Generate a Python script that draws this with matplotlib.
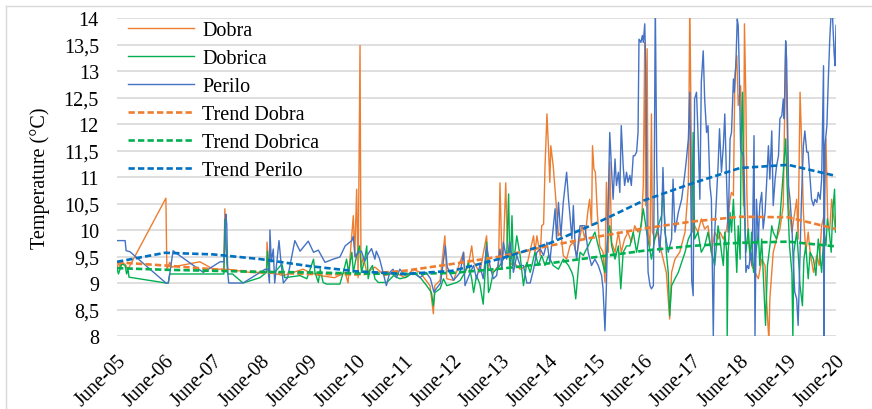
import matplotlib
matplotlib.use("Agg")
import matplotlib.pyplot as plt
from matplotlib.ticker import FuncFormatter
from matplotlib.lines import Line2D

plt.rcParams['font.family'] = ['Liberation Serif', 'DejaVu Serif']
plt.rcParams['font.size'] = 14.5

# Water temperature records (decimal year, degrees C)
dobra_year = [
    2005.42, 2005.45, 2005.48, 2005.52, 2005.59, 2005.65, 2006.44, 2006.46, 2006.52, 2006.56,
    2007.15, 2007.29, 2007.43, 2007.65, 2007.67, 2007.69, 2007.73, 2008.19, 2008.54, 2008.55,
    2008.58, 2008.61, 2008.89, 2009.30, 2009.44, 2009.65, 2009.96, 2010.18, 2010.24, 2010.35,
    2010.38, 2010.42, 2010.45, 2010.49, 2010.51, 2010.56, 2010.63, 2010.80, 2011.01, 2011.22,
    2011.43, 2011.60, 2011.74, 2011.95, 2012.02, 2012.05, 2012.16, 2012.26, 2012.30, 2012.44,
    2012.65, 2012.68, 2012.75, 2012.82, 2012.86, 2012.99, 2013.13, 2013.17, 2013.27, 2013.38,
    2013.41, 2013.45, 2013.48, 2013.53, 2013.56, 2013.62, 2013.69, 2013.83, 2013.97, 2014.11,
    2014.14, 2014.18, 2014.25, 2014.28, 2014.32, 2014.35, 2014.39, 2014.42, 2014.45, 2014.47,
    2014.52, 2014.59, 2014.63, 2014.68, 2014.73, 2014.80, 2014.87, 2014.94, 2015.01, 2015.12,
    2015.18, 2015.25, 2015.28, 2015.32, 2015.34, 2015.37, 2015.40, 2015.44, 2015.49, 2015.56,
    2015.60, 2015.63, 2015.67, 2015.70, 2015.74, 2015.81, 2015.88, 2015.94, 2016.01, 2016.08,
    2016.15, 2016.22, 2016.29, 2016.36, 2016.40, 2016.43, 2016.45, 2016.48, 2016.50, 2016.54,
    2016.57, 2016.59, 2016.64, 2016.71, 2016.78, 2016.88, 2016.95, 2016.99, 2017.06, 2017.16,
    2017.27, 2017.34, 2017.37, 2017.39, 2017.42, 2017.47, 2017.54, 2017.61, 2017.68, 2017.75,
    2017.82, 2017.89, 2017.96, 2018.00, 2018.07, 2018.14, 2018.21, 2018.24, 2018.28, 2018.31,
    2018.35, 2018.38, 2018.43, 2018.49, 2018.51, 2018.54, 2018.56, 2018.59, 2018.66, 2018.73,
    2018.80, 2018.87, 2018.94, 2018.97, 2019.02, 2019.04, 2019.11, 2019.18, 2019.25, 2019.32,
    2019.37, 2019.39, 2019.43, 2019.50, 2019.60, 2019.63, 2019.67, 2019.70, 2019.74, 2019.79,
    2019.84, 2019.88, 2019.95, 2020.02, 2020.07, 2020.12, 2020.17, 2020.21, 2020.25, 2020.29,
    2020.33, 2020.36, 2020.40,
]
dobra_temp = [
    9.26, 9.40, 9.30, 9.40, 9.35, 9.26, 10.60, 9.26, 9.39, 9.30,
    9.40, 9.33, 9.26, 9.26, 10.40, 9.70, 9.26, 9.20, 9.20, 9.77,
    9.40, 9.20, 9.14, 9.26, 9.20, 9.14, 9.10, 9.20, 9.00, 10.27,
    9.50, 10.77, 9.10, 13.48, 9.30, 9.50, 9.20, 9.30, 9.14, 9.20,
    9.10, 9.26, 9.20, 8.95, 8.42, 8.95, 9.05, 9.89, 9.08, 9.05,
    9.58, 9.20, 9.33, 9.70, 9.39, 9.20, 9.89, 9.26, 9.20, 9.33,
    10.89, 9.45, 9.58, 10.89, 9.83, 9.33, 9.39, 9.26, 9.33, 9.89,
    9.58, 9.89, 9.52, 10.08, 10.11, 11.21, 12.19, 11.59, 10.90, 11.59,
    11.21, 10.40, 9.89, 9.96, 9.52, 9.45, 9.70, 9.77, 9.52, 10.08,
    9.83, 10.40, 10.58, 10.08, 11.59, 11.15, 11.09, 10.33, 9.70, 9.58,
    9.01, 10.90, 9.58, 11.28, 9.77, 9.58, 9.96, 9.58, 9.83, 9.96,
    9.77, 10.08, 9.96, 10.08, 10.84, 13.54, 10.46, 13.42, 9.96, 9.70,
    12.19, 9.96, 9.83, 9.96, 9.58, 9.20, 8.32, 9.20, 9.45, 9.58,
    9.96, 10.84, 14.30, 12.60, 9.96, 10.08, 9.96, 10.21, 10.02, 10.08,
    9.58, 9.96, 9.83, 9.96, 9.83, 10.02, 10.58, 10.71, 10.65, 12.91,
    13.29, 12.35, 12.72, 10.46, 13.89, 12.47, 10.71, 9.83, 9.33, 9.20,
    9.08, 9.45, 9.33, 8.70, 7.90, 8.70, 9.58, 9.83, 10.02, 10.46,
    13.51, 12.47, 10.46, 9.96, 10.58, 9.83, 12.60, 11.72, 10.33, 9.58,
    9.96, 9.58, 9.20, 9.52, 9.33, 10.08, 10.27, 11.72, 10.08, 10.02,
    10.58, 10.33, 10.08,
]

dobrica_year = [
    2005.42, 2005.45, 2005.52, 2005.59, 2005.62, 2005.65, 2005.67, 2006.44, 2006.49, 2006.52,
    2007.15, 2007.57, 2007.65, 2007.67, 2007.70, 2007.73, 2007.83, 2008.05, 2008.40, 2008.54,
    2008.56, 2008.59, 2008.71, 2008.86, 2008.92, 2009.24, 2009.38, 2009.45, 2009.52, 2009.55,
    2009.62, 2009.66, 2009.72, 2009.79, 2009.93, 2010.07, 2010.14, 2010.21, 2010.25, 2010.32,
    2010.35, 2010.42, 2010.48, 2010.52, 2010.59, 2010.63, 2010.66, 2010.70, 2010.75, 2010.80,
    2010.87, 2011.05, 2011.19, 2011.32, 2011.46, 2011.60, 2011.74, 2011.88, 2011.98, 2012.02,
    2012.05, 2012.16, 2012.23, 2012.30, 2012.51, 2012.58, 2012.68, 2012.75, 2012.82, 2012.86,
    2012.92, 2012.99, 2013.06, 2013.10, 2013.13, 2013.17, 2013.20, 2013.27, 2013.34, 2013.41,
    2013.48, 2013.55, 2013.59, 2013.62, 2013.66, 2013.69, 2013.76, 2013.83, 2013.90, 2013.97,
    2014.04, 2014.14, 2014.21, 2014.28, 2014.35, 2014.42, 2014.52, 2014.63, 2014.73, 2014.84,
    2014.91, 2014.94, 2014.99, 2015.05, 2015.08, 2015.15, 2015.18, 2015.25, 2015.32, 2015.39,
    2015.46, 2015.53, 2015.60, 2015.67, 2015.70, 2015.74, 2015.81, 2015.88, 2015.93, 2015.98,
    2016.05, 2016.12, 2016.19, 2016.26, 2016.33, 2016.40, 2016.47, 2016.57, 2016.64, 2016.71,
    2016.78, 2016.81, 2016.88, 2016.92, 2016.95, 2016.99, 2017.06, 2017.13, 2017.20, 2017.27,
    2017.34, 2017.41, 2017.44, 2017.47, 2017.54, 2017.61, 2017.68, 2017.75, 2017.82, 2017.89,
    2017.96, 2018.00, 2018.03, 2018.07, 2018.10, 2018.14, 2018.15, 2018.17, 2018.21, 2018.24,
    2018.28, 2018.31, 2018.35, 2018.38, 2018.42, 2018.44, 2018.47, 2018.50, 2018.54, 2018.59,
    2018.63, 2018.66, 2018.70, 2018.75, 2018.80, 2018.83, 2018.87, 2018.92, 2018.95, 2018.99,
    2019.04, 2019.08, 2019.11, 2019.18, 2019.25, 2019.32, 2019.37, 2019.40, 2019.45, 2019.50,
    2019.52, 2019.54, 2019.60, 2019.63, 2019.67, 2019.72, 2019.75, 2019.79, 2019.84, 2019.88,
    2019.95, 2020.00, 2020.05, 2020.12, 2020.17, 2020.21, 2020.24, 2020.28, 2020.32, 2020.35,
    2020.39, 2020.41,
]
dobrica_temp = [
    9.28, 9.17, 9.36, 9.33, 9.17, 9.26, 9.11, 9.00, 9.00, 9.17,
    9.17, 9.17, 9.17, 10.20, 9.60, 9.17, 9.17, 9.00, 9.10, 9.20,
    9.60, 9.20, 9.20, 9.36, 9.10, 9.14, 9.08, 9.26, 9.45, 9.20,
    9.01, 9.26, 9.01, 8.98, 8.98, 8.98, 9.20, 9.45, 9.20, 9.58,
    9.20, 9.52, 9.70, 9.20, 9.45, 9.70, 9.08, 9.26, 9.33, 9.08,
    9.01, 9.01, 9.14, 9.08, 9.11, 9.20, 9.11, 8.95, 8.82, 8.57,
    8.82, 8.89, 9.08, 8.95, 9.01, 9.05, 9.20, 9.39, 9.08, 8.82,
    9.14, 8.98, 8.60, 9.20, 9.77, 8.82, 8.89, 9.20, 9.26, 9.33,
    9.45, 9.52, 10.68, 9.08, 10.27, 9.33, 9.89, 9.52, 8.95, 9.39,
    9.20, 9.58, 9.33, 9.52, 9.33, 9.52, 9.33, 9.26, 9.45, 9.33,
    9.20, 9.11, 8.70, 9.33, 9.58, 9.52, 9.58, 9.70, 9.83, 9.96,
    9.70, 9.45, 9.20, 9.96, 10.08, 9.70, 9.45, 9.70, 8.89, 9.58,
    9.70, 9.70, 9.96, 9.58, 9.96, 10.40, 9.96, 9.45, 9.83, 10.08,
    10.27, 10.84, 9.58, 9.20, 8.38, 8.95, 9.08, 9.20, 9.39, 9.58,
    9.83, 9.96, 11.84, 9.83, 9.96, 9.58, 9.70, 9.96, 9.58, 9.33,
    10.08, 9.83, 9.58, 9.33, 9.96, 9.58, 7.99, 9.58, 10.33, 9.96,
    10.58, 9.96, 9.20, 10.08, 9.45, 11.59, 12.60, 10.58, 9.58, 10.02,
    9.45, 9.96, 9.20, 9.58, 9.96, 9.33, 9.83, 8.82, 8.20, 9.33,
    9.70, 10.08, 9.96, 9.83, 10.21, 11.09, 11.72, 10.84, 9.70, 9.20,
    7.94, 9.58, 9.96, 9.58, 8.95, 8.57, 9.45, 9.70, 9.08, 9.58,
    9.45, 9.14, 9.83, 9.20, 9.96, 9.70, 10.21, 9.96, 9.58, 10.33,
    10.77, 9.96,
]

perilo_year = [
    2005.42, 2005.59, 2005.61, 2005.69, 2006.44, 2006.49, 2006.52, 2006.59, 2006.63, 2007.22,
    2007.57, 2007.65, 2007.69, 2007.71, 2007.73, 2007.75, 2008.05, 2008.51, 2008.57, 2008.60,
    2008.61, 2008.64, 2008.68, 2008.71, 2008.80, 2008.84, 2008.89, 2008.98, 2009.13, 2009.24,
    2009.41, 2009.52, 2009.62, 2009.76, 2009.93, 2010.07, 2010.18, 2010.32, 2010.35, 2010.39,
    2010.45, 2010.52, 2010.59, 2010.66, 2010.73, 2010.80, 2010.83, 2010.90, 2010.97, 2011.04,
    2011.11, 2011.18, 2011.25, 2011.32, 2011.42, 2011.60, 2011.74, 2011.87, 2011.96, 2012.03,
    2012.17, 2012.27, 2012.31, 2012.44, 2012.58, 2012.65, 2012.68, 2012.79, 2012.86, 2012.92,
    2012.99, 2013.06, 2013.13, 2013.20, 2013.27, 2013.34, 2013.41, 2013.45, 2013.48, 2013.55,
    2013.62, 2013.69, 2013.76, 2013.83, 2013.90, 2013.97, 2014.04, 2014.11, 2014.18, 2014.25,
    2014.32, 2014.39, 2014.45, 2014.56, 2014.59, 2014.63, 2014.68, 2014.73, 2014.77, 2014.80,
    2014.84, 2014.87, 2014.91, 2014.94, 2014.98, 2015.01, 2015.08, 2015.18, 2015.25, 2015.32,
    2015.39, 2015.46, 2015.53, 2015.56, 2015.60, 2015.63, 2015.67, 2015.70, 2015.74, 2015.77,
    2015.81, 2015.84, 2015.88, 2015.91, 2015.94, 2015.98, 2016.01, 2016.05, 2016.08, 2016.12,
    2016.15, 2016.19, 2016.22, 2016.26, 2016.29, 2016.31, 2016.35, 2016.38, 2016.40, 2016.43,
    2016.45, 2016.48, 2016.50, 2016.54, 2016.57, 2016.61, 2016.63, 2016.65, 2016.68, 2016.71,
    2016.74, 2016.78, 2016.81, 2016.85, 2016.92, 2016.99, 2017.02, 2017.06, 2017.13, 2017.20,
    2017.27, 2017.30, 2017.34, 2017.37, 2017.41, 2017.44, 2017.47, 2017.51, 2017.54, 2017.58,
    2017.61, 2017.65, 2017.68, 2017.72, 2017.75, 2017.79, 2017.82, 2017.86, 2017.89, 2017.96,
    2017.99, 2018.03, 2018.07, 2018.10, 2018.14, 2018.17, 2018.21, 2018.24, 2018.28, 2018.30,
    2018.33, 2018.36, 2018.38, 2018.40, 2018.43, 2018.45, 2018.49, 2018.51, 2018.54, 2018.57,
    2018.60, 2018.64, 2018.67, 2018.71, 2018.73, 2018.76, 2018.80, 2018.83, 2018.87, 2018.90,
    2018.94, 2018.97, 2019.01, 2019.04, 2019.08, 2019.11, 2019.15, 2019.18, 2019.22, 2019.25,
    2019.29, 2019.32, 2019.34, 2019.37, 2019.39, 2019.43, 2019.46, 2019.50, 2019.53, 2019.56,
    2019.60, 2019.63, 2019.67, 2019.70, 2019.74, 2019.77, 2019.81, 2019.84, 2019.88, 2019.91,
    2019.95, 2019.98, 2020.02, 2020.05, 2020.09, 2020.12, 2020.16, 2020.17, 2020.19, 2020.23,
    2020.26, 2020.29, 2020.33, 2020.35, 2020.38, 2020.40, 2020.42,
]
perilo_temp = [
    9.80, 9.80, 9.61, 9.59, 9.00, 9.00, 9.17, 9.61, 9.58, 9.20,
    9.40, 9.40, 10.30, 10.10, 9.20, 9.00, 9.00, 9.26, 9.26, 9.00,
    10.00, 9.40, 9.64, 9.00, 9.80, 9.40, 9.00, 9.10, 9.80, 9.60,
    9.79, 9.58, 9.62, 9.39, 9.45, 9.49, 9.70, 9.80, 9.88, 9.49,
    9.58, 9.60, 9.41, 9.55, 9.65, 9.45, 9.60, 9.45, 9.20, 8.95,
    9.20, 9.26, 9.10, 9.26, 9.15, 9.20, 9.10, 9.20, 9.08, 8.83,
    9.00, 9.70, 9.30, 9.05, 9.20, 9.58, 8.95, 9.20, 9.33, 9.08,
    9.33, 9.08, 9.70, 9.33, 9.08, 9.14, 9.64, 9.26, 9.77, 9.45,
    9.77, 9.20, 9.52, 9.33, 9.33, 9.00, 9.00, 9.26, 9.58, 9.64,
    9.52, 9.77, 9.39, 10.40, 9.83, 10.52, 9.89, 10.52, 10.84, 11.09,
    10.58, 10.27, 9.83, 10.46, 9.64, 9.45, 10.08, 10.08, 9.58, 9.33,
    9.45, 9.33, 9.14, 8.89, 8.10, 8.95, 10.58, 11.84, 11.09, 10.58,
    11.34, 10.84, 11.09, 10.71, 11.97, 11.21, 10.84, 11.09, 10.90, 11.03,
    10.84, 11.40, 11.40, 11.47, 11.84, 13.60, 13.54, 13.67, 13.54, 13.89,
    13.10, 9.96, 9.20, 8.95, 8.89, 8.95, 11.21, 14.30, 11.21, 9.96,
    9.58, 10.08, 11.18, 9.96, 9.58, 9.83, 10.96, 9.96, 10.33, 10.58,
    11.09, 11.34, 11.72, 12.60, 9.05, 8.76, 12.47, 12.60, 11.84, 10.58,
    12.79, 13.38, 12.47, 11.84, 11.97, 10.84, 10.58, 8.00, 9.96, 11.21,
    11.91, 11.09, 11.59, 12.19, 10.84, 9.96, 11.72, 11.84, 12.85, 12.60,
    13.10, 13.98, 13.86, 13.10, 11.53, 11.47, 11.40, 10.84, 9.20, 9.33,
    9.27, 9.58, 9.33, 11.78, 8.00, 10.58, 9.83, 10.46, 10.71, 10.02,
    10.33, 10.84, 11.59, 10.96, 11.87, 10.46, 10.96, 11.21, 11.40, 12.10,
    12.16, 12.47, 12.10, 13.57, 13.22, 10.84, 10.58, 10.08, 9.33, 8.83,
    8.70, 8.20, 9.58, 10.58, 11.59, 11.87, 11.47, 11.47, 10.96, 10.58,
    10.46, 10.58, 10.52, 10.71, 10.58, 10.96, 13.10, 8.00, 11.59, 11.97,
    12.85, 13.60, 14.30, 13.98, 13.35, 13.10, 13.86,
]

# Polynomial trend curves, sampled once a year (each June)
trend_year = [2005.42, 2006.42, 2007.42, 2008.42, 2009.42, 2010.42, 2011.42, 2012.42,
              2013.42, 2014.42, 2015.42, 2016.42, 2017.42, 2018.42, 2019.42, 2020.42]
trend_dobra = [9.39, 9.33, 9.26, 9.20, 9.17, 9.16, 9.23, 9.36,
               9.50, 9.70, 9.87, 10.03, 10.16, 10.25, 10.24, 10.02]
trend_dobrica = [9.28, 9.25, 9.23, 9.21, 9.20, 9.18, 9.17, 9.19,
                 9.27, 9.37, 9.49, 9.61, 9.70, 9.76, 9.78, 9.69]
trend_perilo = [9.40, 9.57, 9.54, 9.45, 9.32, 9.22, 9.17, 9.23,
                9.46, 9.74, 10.13, 10.56, 10.88, 11.17, 11.23, 11.02]

tick_years = [2005.42, 2006.42, 2007.42, 2008.42, 2009.42, 2010.42, 2011.42, 2012.42,
              2013.42, 2014.42, 2015.42, 2016.42, 2017.42, 2018.42, 2019.42, 2020.42]
tick_labels = ["June-05", "June-06", "June-07", "June-08", "June-09", "June-10",
               "June-11", "June-12", "June-13", "June-14", "June-15", "June-16",
               "June-17", "June-18", "June-19", "June-20"]

W, H = 872, 410
fig = plt.figure(figsize=(W / 100, H / 100), dpi=100)
ax = fig.add_axes([117 / W, 1 - 337 / H, (836 - 117) / W, (337 - 19) / H])

c_dobra, c_dobrica, c_perilo = "#ED7D31", "#00B050", "#4472C4"
ln1, = ax.plot(dobra_year, dobra_temp, color=c_dobra, lw=1.0, label="Dobra")
ln2, = ax.plot(dobrica_year, dobrica_temp, color=c_dobrica, lw=1.0, label="Dobrica")
ln3, = ax.plot(perilo_year, perilo_temp, color=c_perilo, lw=1.0, label="Perilo")
dash = (2.4, 1.2)
tr1, = ax.plot(trend_year, trend_dobra, color=c_dobra, lw=1.9, dashes=dash, label="Trend Dobra")
tr2, = ax.plot(trend_year, trend_dobrica, color=c_dobrica, lw=1.9, dashes=dash, label="Trend Dobrica")
tr3, = ax.plot(trend_year, trend_perilo, color="#0070C0", lw=1.9, dashes=dash, label="Trend Perilo")

ax.set_xlim(2005.42, 2020.42)
ax.set_ylim(8, 14)
ax.set_yticks([8 + 0.5 * i for i in range(13)])
ax.yaxis.set_major_formatter(FuncFormatter(lambda v, p: ("%g" % v).replace(".", ",")))
ax.set_xticks(tick_years)
ax.set_xticklabels(tick_labels, rotation=45, ha="right", va="top", rotation_mode="anchor")
ax.tick_params(axis="both", length=0, labelsize=14.5)
ax.tick_params(axis="y", pad=13)
ax.tick_params(axis="x", pad=11)
ax.yaxis.grid(True, color="#d9d9d9", lw=1.2)
ax.set_axisbelow(True)
for s in ax.spines.values():
    s.set_visible(False)

ax.set_ylabel("Temperature (°C)", fontsize=14.5)
ax.yaxis.set_label_coords((50 - 117) / 719, 0.5)

ax.legend(handles=[ln1, ln2, ln3, tr1, tr2, tr3], loc="upper left",
          bbox_to_anchor=(0.015, 0.99), frameon=False, borderaxespad=0, borderpad=0,
          handlelength=3.3, handletextpad=0.4, labelspacing=0.44, fontsize=14.5)

# Light frame around the chart (right and bottom edges fall outside the image)
frame = dict(color="#d9d9d9", lw=1.0, transform=fig.transFigure)
fig.add_artist(Line2D([6 / W, 1.0], [1 - 7 / H, 1 - 7 / H], **frame))
fig.add_artist(Line2D([6 / W, 6 / W], [0.0, 1 - 7 / H], **frame))

fig.savefig("out.png", dpi=100)
